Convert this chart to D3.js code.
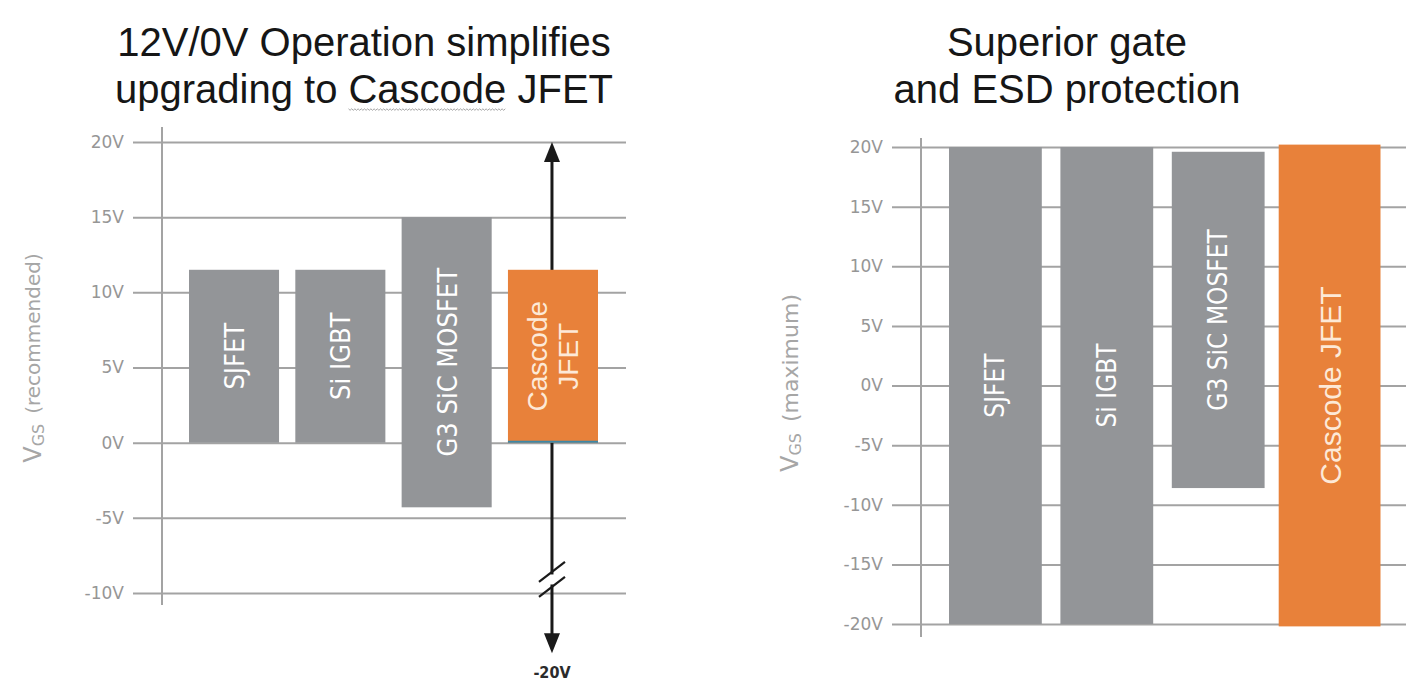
<!DOCTYPE html>
<html>
<head>
<meta charset="utf-8">
<script src="https://cdn.jsdelivr.net/npm/d3@7"></script>
<style>
  body { margin: 0; background: #fff; }
  svg { display: block; }
</style>
</head>
<body>
<svg id="chart"></svg>
<script>
// values
const devices = ["SJFET", "Si IGBT", "G3 SiC MOSFET", "Cascode JFET"];

const recHigh = [11.5, 11.5, 15, 11.5];
const recLow = [0, 0, -4.3, 0];
const recTicks = [20, 15, 10, 5, 0, -5, -10];
const recLabels = [["SJFET"], ["Si IGBT"], ["G3 SiC MOSFET"], ["Cascode", "JFET"]];

const maxHigh = [20, 20, 19.6, 20.2];
const maxLow = [-20, -20, -8.6, -20.2];
const maxTicks = [20, 15, 10, 5, 0, -5, -10, -15, -20];
const maxLabels = [["SJFET"], ["Si IGBT"], ["G3 SiC MOSFET"], ["Cascode JFET"]];

// off-scale arrow on the cascode bar (left chart)
const arrowTop = 20;
const arrowTipAt = -14;     // where the "-20V" tip is drawn on the broken axis
const arrowBreakAt = -9.1;
const arrowLabel = "-20V";

const W = 1422, H = 693;
const GREY = "#939598", ORANGE = "#e8813a", GRID = "#a3a3a3", TICK_TXT = "#969696";
const COND = "'DejaVu Sans Condensed', 'DejaVu Sans', sans-serif";

const svg = d3.select("#chart").attr("width", W).attr("height", H);

function drawTitle(lines, cx, y0, underlineWord) {
    const t = svg.append("text")
        .attr("text-anchor", "middle")
        .style("font-family", "'Liberation Sans', Arial, sans-serif")
        .style("font-size", "40px")
        .attr("fill", "#161616");
    lines.forEach((ln, i) => {
        t.append("tspan").attr("x", cx).attr("y", y0 + i * 47).text(ln);
    });
    if (underlineWord) {
        // spell-check squiggle under one word
        const node = t.selectAll("tspan").nodes()[underlineWord.line];
        const idx = lines[underlineWord.line].indexOf(underlineWord.word);
        const s = node.getStartPositionOfChar(idx);
        const e = node.getEndPositionOfChar(idx + underlineWord.word.length - 1);
        const yy = y0 + underlineWord.line * 47 + 6;
        const pts = [];
        for (let x = s.x, k = 0; x <= e.x; x += 1.6, k++) pts.push([x, yy + (k % 2 ? 1.3 : -0.2)]);
        svg.append("path").attr("d", d3.line()(pts))
            .attr("fill", "none").attr("stroke", "#9a9a9a").attr("stroke-width", 0.9);
    }
}

function drawPanel(cfg) {
    const y = d3.scaleLinear().domain(cfg.domain).range(cfg.range);
    const x = d3.scaleBand().domain(devices).range(cfg.xRange)
        .paddingInner(cfg.padIn).paddingOuter(0);

    const g = svg.append("g");

    const axis = d3.axisLeft(y).tickValues(cfg.ticks)
        .tickSize(-(cfg.gridRight - cfg.gridLeft))
        .tickPadding(9)
        .tickFormat(d => d + "V");
    const ag = g.append("g").attr("transform", `translate(${cfg.gridLeft},0)`).call(axis);
    ag.select(".domain").remove();
    ag.selectAll(".tick line").attr("stroke", GRID).attr("stroke-width", 2);
    ag.selectAll(".tick text")
        .attr("fill", TICK_TXT)
        .style("font-family", "'DejaVu Sans', sans-serif")
        .style("font-size", "17px");

    g.append("line")
        .attr("x1", cfg.axisX).attr("x2", cfg.axisX)
        .attr("y1", cfg.axisTop).attr("y2", cfg.axisBottom)
        .attr("stroke", GRID).attr("stroke-width", 2);

    // y label: V_GS (...)
    const yl = g.append("text")
        .attr("transform", `translate(${cfg.labelX},${cfg.labelY}) rotate(-90)`)
        .attr("text-anchor", "middle")
        .attr("dominant-baseline", "central")
        .attr("fill", "#a6a6a6")
        .style("font-family", "'DejaVu Sans', sans-serif")
        .style("font-size", cfg.labelFont);
    yl.append("tspan").style("font-size", "24px").text("V");
    yl.append("tspan").attr("dy", 5).style("font-size", "16px").text("GS");
    yl.append("tspan").attr("dy", -5).text("\u2002" + cfg.label);

    if (cfg.beforeBars) cfg.beforeBars(g, x, y);

    const rows = devices.map((d, i) => ({
        name: d, hi: cfg.high[i], lo: cfg.low[i], lines: cfg.labels[i], hot: d === "Cascode JFET"
    }));

    const widen = d => (d.hot ? cfg.hotExtra : 0);

    g.selectAll("rect.bar").data(rows).join("rect")
        .attr("class", "bar")
        .attr("x", d => x(d.name) - widen(d) / 2)
        .attr("width", d => x.bandwidth() + widen(d))
        .attr("y", d => y(d.hi))
        .attr("height", d => y(d.lo) - y(d.hi))
        .attr("fill", d => (d.hot ? ORANGE : GREY));

    const lab = g.selectAll("text.barlab").data(rows).join("text")
        .attr("class", "barlab")
        .attr("transform", d => `translate(${x(d.name) + x.bandwidth() / 2},${(y(d.hi) + y(d.lo)) / 2}) rotate(-90)`)
        .attr("text-anchor", "middle")
        .attr("dominant-baseline", "central")
        .attr("fill", d => (d.hot ? "#fde9d7" : "#ffffff"))
        .style("font-family", d => (d.hot ? "'Liberation Sans', Arial, sans-serif" : COND))
        .style("font-size", d => (d.hot ? cfg.hotFont : cfg.barFont));
    lab.each(function (d) {
        const n = d.lines.length;
        d3.select(this).selectAll("tspan").data(d.lines).join("tspan")
            .attr("x", 0)
            .attr("y", (s, i) => (i - (n - 1) / 2) * 31)
            .text(s => s);
    });

    if (cfg.afterBars) cfg.afterBars(g, x, y);
}

drawTitle(["12V/0V Operation simplifies", "upgrading to Cascode JFET"], 364, 56,
    { line: 1, word: "Cascode" });
drawTitle(["Superior gate", "and ESD protection"], 1067, 56);

drawPanel({
    domain: [-10, 20], range: [593, 142],
    ticks: recTicks, high: recHigh, low: recLow, labels: recLabels,
    xRange: [189, 598], padIn: 0.153,
    gridLeft: 133, gridRight: 626, axisX: 162, axisTop: 127, axisBottom: 605,
    labelX: 33, labelY: 358, label: "(recommended)", labelFont: "20px",
    barFont: "27px", hotFont: "28px", hotExtra: 0,
    beforeBars: (g, x, y) => {
        const cx = x("Cascode JFET") + x.bandwidth() / 2 - 1;
        const top = y(arrowTop), tip = y(arrowTipAt), br = y(arrowBreakAt);
        g.append("line").attr("x1", cx).attr("x2", cx)
            .attr("y1", top + 18).attr("y2", tip - 18)
            .attr("stroke", "#1a1a1a").attr("stroke-width", 3);
        g.append("path")
            .attr("d", `M${cx},${top} L${cx - 8},${top + 20} L${cx + 8},${top + 20} Z`)
            .attr("fill", "#1a1a1a");
        g.append("path")
            .attr("d", `M${cx},${tip} L${cx - 8},${tip - 20} L${cx + 8},${tip - 20} Z`)
            .attr("fill", "#1a1a1a");
        // axis break
        g.append("rect").attr("x", cx - 6).attr("y", br - 5).attr("width", 12).attr("height", 10).attr("fill", "#fff");
        [-7.5, 7.5].forEach(o => {
            g.append("line")
                .attr("x1", cx - 13).attr("y1", br + o + 10)
                .attr("x2", cx + 13).attr("y2", br + o - 10)
                .attr("stroke", "#1a1a1a").attr("stroke-width", 2.2);
        });
        g.append("text").attr("x", cx).attr("y", tip + 25)
            .attr("text-anchor", "middle")
            .attr("fill", "#2b2b2b")
            .style("font-family", COND)
            .style("font-weight", "bold")
            .style("font-size", "16px")
            .text(arrowLabel);
    },
    afterBars: (g, x, y) => {
        // thin blue edge at the bottom of the cascode bar
        g.append("line")
            .attr("x1", x("Cascode JFET")).attr("x2", x("Cascode JFET") + x.bandwidth())
            .attr("y1", y(0) - 1).attr("y2", y(0) - 1)
            .attr("stroke", "#3d87a6").attr("stroke-width", 2);
    }
});

drawPanel({
    domain: [-20, 20], range: [624, 147],
    ticks: maxTicks, high: maxHigh, low: maxLow, labels: maxLabels,
    xRange: [949, 1376], padIn: 0.167,
    gridLeft: 892, gridRight: 1406, axisX: 921, axisTop: 138, axisBottom: 637,
    labelX: 790, labelY: 383, label: "(maximum)", labelFont: "22px",
    barFont: "26px", hotFont: "30px", hotExtra: 9
});
</script>
</body>
</html>
